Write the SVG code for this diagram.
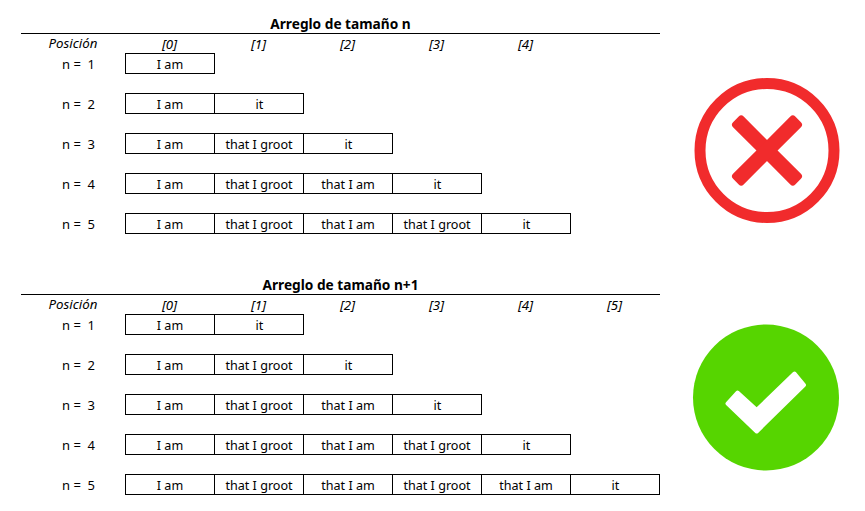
<svg xmlns="http://www.w3.org/2000/svg" width="865" height="511" viewBox="0 0 865 511">
<style>
text{font-family:"Noto Sans","Open Sans","Liberation Sans",sans-serif;font-size:12.6px;fill:#000;text-anchor:middle;white-space:pre}
.t{font-weight:700;font-size:13.7px}
.h{font-style:italic;font-size:13.3px}
.l{font-size:13px}
.c{fill:#fff;stroke:#000;stroke-width:1}
.r{stroke:#000;stroke-width:1;fill:none}
</style>
<rect width="865" height="511" fill="#fff"/>
<g id="tabla-n">
<text class="t" x="340.500" y="29">Arreglo de tamaño n</text>
<path class="r" d="M21 33.500H660"/>
<text class="h" x="73" y="48">Posición</text>
<text class="h" x="169.500" y="49">[0]</text><text class="h" x="258.500" y="49">[1]</text><text class="h" x="347.500" y="49">[2]</text><text class="h" x="436.500" y="49">[3]</text><text class="h" x="525.500" y="49">[4]</text>
</g>
<g id="n1-a1"><text class="l" x="78.500" y="69">n =  1</text>
<rect class="c" x="125.500" y="53.500" width="89" height="20"/><text x="170" y="69">I am</text></g>
<g id="n1-a2"><text class="l" x="78.500" y="109">n =  2</text>
<rect class="c" x="125.500" y="93.500" width="89" height="20"/><text x="170" y="109">I am</text>
<rect class="c" x="214.500" y="93.500" width="89" height="20"/><text x="259.500" y="109">it</text></g>
<g id="n1-a3"><text class="l" x="78.500" y="149">n =  3</text>
<rect class="c" x="125.500" y="133.500" width="89" height="20"/><text x="170" y="149">I am</text>
<rect class="c" x="214.500" y="133.500" width="89" height="20"/><text x="259" y="149">that I groot</text>
<rect class="c" x="303.500" y="133.500" width="89" height="20"/><text x="348.500" y="149">it</text></g>
<g id="n1-a4"><text class="l" x="78.500" y="189">n =  4</text>
<rect class="c" x="125.500" y="173.500" width="89" height="20"/><text x="170" y="189">I am</text>
<rect class="c" x="214.500" y="173.500" width="89" height="20"/><text x="259" y="189">that I groot</text>
<rect class="c" x="303.500" y="173.500" width="89" height="20"/><text x="348" y="189">that I am</text>
<rect class="c" x="392.500" y="173.500" width="89" height="20"/><text x="437.500" y="189">it</text></g>
<g id="n1-a5"><text class="l" x="78.500" y="229">n =  5</text>
<rect class="c" x="125.500" y="213.500" width="89" height="20"/><text x="170" y="229">I am</text>
<rect class="c" x="214.500" y="213.500" width="89" height="20"/><text x="259" y="229">that I groot</text>
<rect class="c" x="303.500" y="213.500" width="89" height="20"/><text x="348" y="229">that I am</text>
<rect class="c" x="392.500" y="213.500" width="89" height="20"/><text x="437" y="229">that I groot</text>
<rect class="c" x="481.500" y="213.500" width="89" height="20"/><text x="526.500" y="229">it</text></g>
<g id="tabla-n1">
<text class="t" x="340.500" y="290">Arreglo de tamaño n+1</text>
<path class="r" d="M21 294.500H660"/>
<text class="h" x="73" y="309">Posición</text>
<text class="h" x="169.500" y="310">[0]</text><text class="h" x="258.500" y="310">[1]</text><text class="h" x="347.500" y="310">[2]</text><text class="h" x="436.500" y="310">[3]</text><text class="h" x="525.500" y="310">[4]</text><text class="h" x="614.500" y="310">[5]</text>
</g>
<g id="n2-a1"><text class="l" x="78.500" y="330">n =  1</text>
<rect class="c" x="125.500" y="314.500" width="89" height="20"/><text x="170" y="330">I am</text>
<rect class="c" x="214.500" y="314.500" width="89" height="20"/><text x="259.500" y="330">it</text></g>
<g id="n2-a2"><text class="l" x="78.500" y="370">n =  2</text>
<rect class="c" x="125.500" y="354.500" width="89" height="20"/><text x="170" y="370">I am</text>
<rect class="c" x="214.500" y="354.500" width="89" height="20"/><text x="259" y="370">that I groot</text>
<rect class="c" x="303.500" y="354.500" width="89" height="20"/><text x="348.500" y="370">it</text></g>
<g id="n2-a3"><text class="l" x="78.500" y="410">n =  3</text>
<rect class="c" x="125.500" y="394.500" width="89" height="20"/><text x="170" y="410">I am</text>
<rect class="c" x="214.500" y="394.500" width="89" height="20"/><text x="259" y="410">that I groot</text>
<rect class="c" x="303.500" y="394.500" width="89" height="20"/><text x="348" y="410">that I am</text>
<rect class="c" x="392.500" y="394.500" width="89" height="20"/><text x="437.500" y="410">it</text></g>
<g id="n2-a4"><text class="l" x="78.500" y="450">n =  4</text>
<rect class="c" x="125.500" y="434.500" width="89" height="20"/><text x="170" y="450">I am</text>
<rect class="c" x="214.500" y="434.500" width="89" height="20"/><text x="259" y="450">that I groot</text>
<rect class="c" x="303.500" y="434.500" width="89" height="20"/><text x="348" y="450">that I am</text>
<rect class="c" x="392.500" y="434.500" width="89" height="20"/><text x="437" y="450">that I groot</text>
<rect class="c" x="481.500" y="434.500" width="89" height="20"/><text x="526.500" y="450">it</text></g>
<g id="n2-a5"><text class="l" x="78.500" y="490">n =  5</text>
<rect class="c" x="125.500" y="474.500" width="89" height="20"/><text x="170" y="490">I am</text>
<rect class="c" x="214.500" y="474.500" width="89" height="20"/><text x="259" y="490">that I groot</text>
<rect class="c" x="303.500" y="474.500" width="89" height="20"/><text x="348" y="490">that I am</text>
<rect class="c" x="392.500" y="474.500" width="89" height="20"/><text x="437" y="490">that I groot</text>
<rect class="c" x="481.500" y="474.500" width="89" height="20"/><text x="526" y="490">that I am</text>
<rect class="c" x="570.500" y="474.500" width="89" height="20"/><text x="615.500" y="490">it</text></g>
<g id="icono-x">
<circle cx="767" cy="150.500" r="67" fill="#fff" stroke="#f12b2c" stroke-width="11"/>
<g transform="translate(767 150.500) rotate(45)" fill="#f12b2c"><rect x="-44" y="-7.500" width="88" height="15" rx="3.500"/><rect x="-7.500" y="-44" width="15" height="88" rx="3.500"/></g>
</g>
<g id="icono-check">
<circle cx="766" cy="397.500" r="73" fill="#56d500"/>
<path d="M727.500 403.500L737.500 392.500L756.700 410L794.500 373.500L804 385L756.700 431.500Z" fill="#fff" stroke="#fff" stroke-width="4" stroke-linejoin="round"/>
</g>
</svg>
